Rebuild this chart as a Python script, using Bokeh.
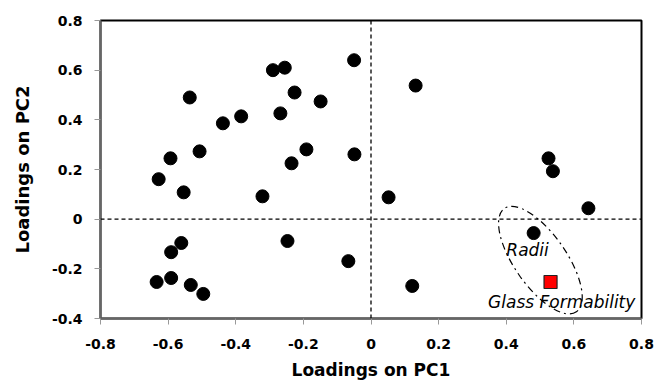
from bokeh.plotting import figure
from bokeh.models import Span, Label, FixedTicker, LinearAxis
from bokeh.embed import file_html
from bokeh.resources import INLINE

# Loadings of the descriptors (PC1, PC2)
pc1 = [-0.05, -0.29, -0.255, -0.226, -0.149, -0.536, -0.438, -0.384, -0.268,
       -0.507, -0.593, -0.191, -0.235, -0.628, -0.554, -0.321, 0.132, -0.049,
       0.525, 0.538, 0.052, -0.247, -0.561, -0.591, -0.591, -0.634, -0.533,
       -0.496, 0.643, 0.481, -0.067, 0.122]
pc2 = [0.64, 0.60, 0.61, 0.51, 0.474, 0.49, 0.386, 0.414, 0.426,
       0.273, 0.245, 0.281, 0.225, 0.161, 0.108, 0.092, 0.538, 0.261,
       0.245, 0.193, 0.088, -0.088, -0.096, -0.133, -0.237, -0.253, -0.265,
       -0.301, 0.044, -0.056, -0.169, -0.269]

# Target property
target_pc1 = [0.531]
target_pc2 = [-0.253]
target_label = "Glass Formability"

# Group marked with an ellipse
group_label = "Radii"

x_ticks = [-0.8, -0.6, -0.4, -0.2, 0, 0.2, 0.4, 0.6, 0.8]
y_ticks = [-0.4, -0.2, 0, 0.2, 0.4, 0.6, 0.8]

FONT = "DejaVu Sans"

p = figure(width=654, height=382, output_backend="svg", toolbar_location=None,
           x_range=(-0.8, 0.8), y_range=(-0.4, 0.8),
           min_border_left=100, min_border_right=13, min_border_top=20,
           min_border_bottom=63)
p.grid.visible = False
p.outline_line_color = "black"
p.outline_line_width = 2
p.background_fill_color = "white"
p.border_fill_color = "white"

for ax in (p.xaxis, p.yaxis):
    ax.axis_line_color = "#666666"
    ax.axis_line_width = 2
    ax.major_tick_line_color = "#999999"
    ax.major_tick_in = 0
    ax.major_tick_out = 6
    ax.minor_tick_line_color = None
    ax.major_label_text_font = FONT
    ax.major_label_text_font_style = "bold"
    ax.major_label_text_font_size = "14px"
    ax.major_label_text_color = "black"

p.xaxis.ticker = FixedTicker(ticks=x_ticks)
p.yaxis.ticker = FixedTicker(ticks=y_ticks)
p.xaxis.major_label_overrides = {t: ("0" if t == 0 else f"{t:g}") for t in x_ticks}
p.yaxis.major_label_overrides = {t: ("0" if t == 0 else f"{t:g}") for t in y_ticks}
p.xaxis.major_label_standoff = 14
p.yaxis.major_label_standoff = 12

p.xaxis.axis_label = "Loadings on PC1"
p.xaxis.axis_label_text_font = FONT
p.xaxis.axis_label_text_font_style = "bold"
p.xaxis.axis_label_text_font_size = "17px"
p.xaxis.axis_label_text_color = "black"
p.xaxis.axis_label_standoff = 8

# y title on a bare axis whose bounds shift the title below the frame centre
ytitle = LinearAxis(ticker=FixedTicker(ticks=[]), bounds=(-0.4, 0.56),
                    axis_line_color=None, major_tick_line_color=None,
                    minor_tick_line_color=None, major_label_text_font_size="0px",
                    axis_label="Loadings on PC2", axis_label_text_font=FONT,
                    axis_label_text_font_style="bold", axis_label_text_font_size="18px",
                    axis_label_standoff=16, axis_label_text_color="black")
p.add_layout(ytitle, "left")

p.add_layout(Span(location=0, dimension="height", line_color="black",
                  line_dash="4 3", line_width=1.3))
p.add_layout(Span(location=0, dimension="width", line_color="black",
                  line_dash="4 3", line_width=1.3))

p.scatter(pc1, pc2, size=13, marker="circle", fill_color="black", line_color="black")
p.scatter(target_pc1, target_pc2, size=13, marker="square", fill_color="#ff0000",
          line_color="#222222", line_width=1.2)

p.ellipse(x=[0.501], y=[-0.165], width=126, height=52, angle=-0.963,
          width_units="screen", height_units="screen",
          fill_color=None, line_color="black", line_width=1.2, line_dash="7 4 2 4")

p.add_layout(Label(x=0.463, y=-0.124, text=group_label, text_font=FONT,
                   text_font_style="italic", text_font_size="17px",
                   text_align="center", text_baseline="middle", text_color="black"))
p.add_layout(Label(x=0.564, y=-0.333, text=target_label, text_font=FONT,
                   text_font_style="italic", text_font_size="17px",
                   text_align="center", text_baseline="middle", text_color="black"))

open("out.html", "w").write(file_html(p, INLINE))
